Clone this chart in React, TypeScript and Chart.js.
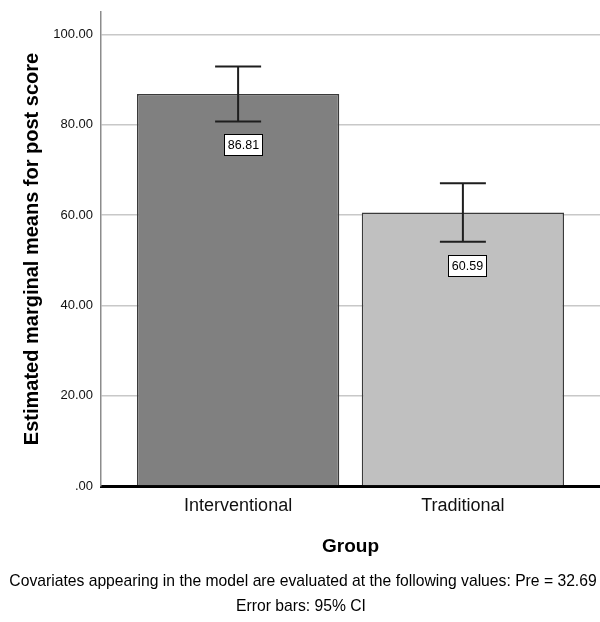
import React, { useEffect, useRef } from 'react';
import { Chart, registerables } from 'chart.js';

Chart.register(...registerables);

const categories = ['Interventional', 'Traditional'];
const means = [86.81, 60.59];
const ciLower = [80.75, 54.13];
const ciUpper = [92.9, 67.05];
const yTickValues = [0, 20, 40, 60, 80, 100];
const barColors = ['#808080', '#c0c0c0'];
const yTitle = 'Estimated marginal means for post score';
const xTitle = 'Group';
const footnotes = [
  'Covariates appearing in the model are evaluated at the following values: Pre = 32.69',
  'Error bars: 95% CI',
];

const FONT = '"Liberation Sans", Arial, sans-serif';

const overlayPlugin = {
  id: 'spssOverlay',
  afterDatasetsDraw(chart: any) {
    const { ctx } = chart;
    const x = chart.scales.x;
    const y = chart.scales.y;
    ctx.save();
    means.forEach((m, i) => {
      const cx = x.getPixelForValue(i);
      const yt = y.getPixelForValue(ciUpper[i]);
      const yb = y.getPixelForValue(ciLower[i]);
      ctx.strokeStyle = '#1e1e1e';
      ctx.lineWidth = 2;
      ctx.beginPath();
      ctx.moveTo(cx, yt);
      ctx.lineTo(cx, yb);
      ctx.moveTo(cx - 23, yt);
      ctx.lineTo(cx + 23, yt);
      ctx.moveTo(cx - 23, yb);
      ctx.lineTo(cx + 23, yb);
      ctx.stroke();

      const txt = m.toFixed(2);
      ctx.font = '12.5px ' + FONT;
      const w = Math.round(ctx.measureText(txt).width + 8);
      const h = 22;
      const bx = Math.round(cx + 5 - w / 2);
      const by = Math.round(yb + 13);
      ctx.fillStyle = '#ffffff';
      ctx.fillRect(bx, by, w, h);
      ctx.strokeStyle = '#000000';
      ctx.lineWidth = 1;
      ctx.strokeRect(bx + 0.5, by + 0.5, w - 1, h - 1);
      ctx.fillStyle = '#000000';
      ctx.textAlign = 'center';
      ctx.textBaseline = 'middle';
      ctx.fillText(txt, bx + w / 2, by + h / 2 + 1);
    });
    ctx.restore();
  },
  afterDraw(chart: any) {
    const { ctx } = chart;
    ctx.save();
    ctx.fillStyle = '#000000';
    ctx.textAlign = 'center';
    ctx.textBaseline = 'middle';
    ctx.font = '15.7px ' + FONT;
    ctx.fillText(footnotes[0], 303, 582);
    ctx.fillText(footnotes[1], 301, 607);
    ctx.restore();
  },
};

export default function App() {
  const canvasRef = useRef<HTMLCanvasElement | null>(null);

  useEffect(() => {
    if (!canvasRef.current) return;
    const chart = new Chart(canvasRef.current, {
      type: 'bar',
      data: {
        datasets: [
          {
            data: means.map((v, i) => ({ x: i, y: v })),
            backgroundColor: barColors,
            borderColor: '#3a3a3a',
            borderWidth: 1.5,
            categoryPercentage: 0.9,
            barPercentage: 1,
          },
        ],
      },
      options: {
        responsive: false,
        animation: false,
        events: [],
        layout: { padding: { left: 0, top: 12, right: 0, bottom: 0 } },
        plugins: {
          legend: { display: false },
          tooltip: { enabled: false },
        },
        scales: {
          x: {
            type: 'linear',
            offset: false,
            min: -0.61,
            max: 1.61,
            afterBuildTicks(scale: any) {
              scale.ticks = categories.map((_, i) => ({ value: i }));
            },
            afterFit(scale: any) {
              scale.height = 136;
              scale.paddingLeft = 0;
              scale.paddingRight = 0;
            },
            grid: { display: false, drawTicks: false },
            border: { display: true, color: '#000000', width: 3 },
            ticks: {
              color: '#111111',
              padding: 9,
              font: { family: FONT, size: 18 },
              callback: (v: any) => categories[Math.round(Number(v))] ?? '',
            },
            title: {
              display: true,
              text: xTitle,
              color: '#000000',
              font: { family: FONT, size: 19, weight: 'bold' },
              padding: { top: 0, bottom: 64 },
            },
          },
          y: {
            type: 'linear',
            min: 0,
            max: 105,
            afterBuildTicks(scale: any) {
              scale.ticks = yTickValues.map((v) => ({ value: v }));
            },
            afterFit(scale: any) {
              scale.width = 101;
              scale.paddingTop = 0;
              scale.paddingBottom = 0;
            },
            grid: {
              drawTicks: false,
              color: (c: any) => (c.tick && c.tick.value === 0 ? 'rgba(0,0,0,0)' : '#c8c8c8'),
              lineWidth: 1.5,
            },
            border: { display: true, color: '#8c8c8c', width: 1.5 },
            ticks: {
              color: '#111111',
              padding: 8,
              font: { family: FONT, size: 13 },
              callback: (v: any) => (Number(v) === 0 ? '.00' : Number(v).toFixed(2)),
            },
            title: {
              display: true,
              text: yTitle,
              color: '#000000',
              font: { family: FONT, size: 20, weight: 'bold' },
              padding: { top: 20, bottom: 0 },
            },
          },
        },
      },
      plugins: [overlayPlugin],
    } as any);
    return () => chart.destroy();
  }, []);

  return (
    <div style={{ position: 'absolute', left: 0, top: 0, width: 600, height: 622, background: '#ffffff' }}>
      <canvas ref={canvasRef} width={600} height={622} />
    </div>
  );
}
